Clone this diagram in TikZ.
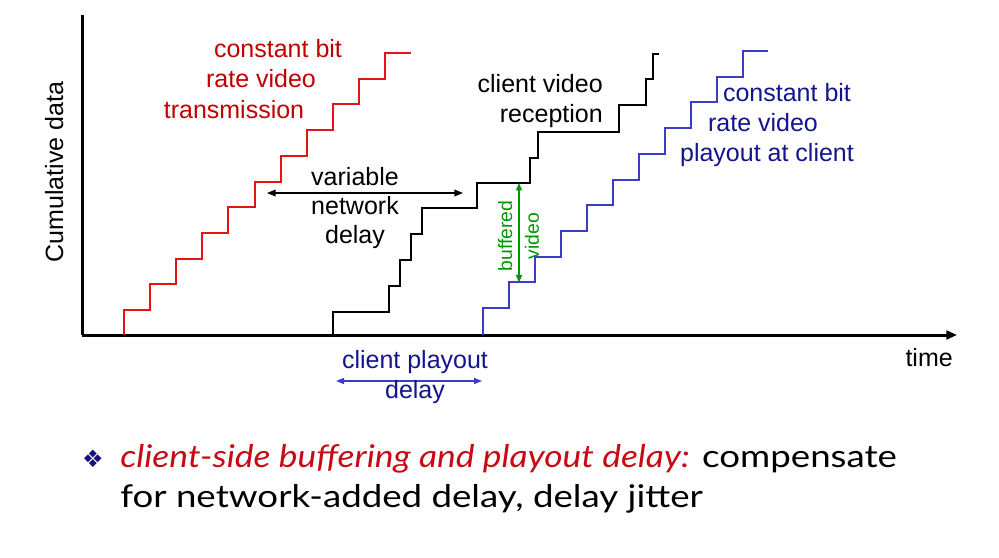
\documentclass[tikz,border=0pt]{standalone}
\usepackage{fontspec}
\setmainfont{Liberation Sans}
\newfontfamily\gillfont[FakeStretch=1.17]{Lato}
\newfontfamily\gillitfont[FakeStretch=1.13]{Lato}
\newfontfamily\symfont{DejaVu Sans}
\usetikzlibrary{arrows.meta}
\definecolor{redline}{RGB}{228,20,20}
\definecolor{redtext}{RGB}{192,0,0}
\definecolor{blueline}{RGB}{60,60,200}
\definecolor{bluetext}{RGB}{20,20,140}
\definecolor{greenc}{RGB}{0,150,0}
\definecolor{navy}{RGB}{20,20,120}
\definecolor{bulred}{RGB}{200,10,20}
\begin{document}
\begin{tikzpicture}[x=0.75pt,y=-0.75pt,
  lbl/.style={inner sep=0pt,font=\fontsize{18.75pt}{22.5pt}\selectfont},
  axisline/.style={line width=2.25pt,black},
  stairline/.style={line width=1.5pt,line join=miter,line cap=butt},
  dimarrow/.style={line width=1.1pt,{Triangle[length=6.5pt,width=5pt]}-{Triangle[length=6.5pt,width=5pt]}},
  bultext/.style={inner sep=0pt,anchor=base west,font=\gillfont\fontsize{23.5pt}{29pt}\selectfont}]
\useasboundingbox (0,0) rectangle (999,557);

% axes
\coordinate (origin) at (82,335);
\coordinate (ytop) at (82,15);
\coordinate (xend) at (957,335);
\draw[axisline] (ytop) -- (origin);
\draw[axisline,-{Triangle[length=8pt,width=6.5pt]}] (origin) -- (xend);
\node[lbl,rotate=90,anchor=base] (ylabel) at (63,172) {Cumulative data};
\node[lbl,anchor=base east] (timelbl) at (953,366) {time};

% red: constant bit rate transmission
\draw[stairline,redline] (124,335) |- (150.1,310) |- (176.2,284.3) |- (202.3,258.6)
  |- (228.4,232.9) |- (254.5,207.2) |- (280.6,181.5) |- (306.7,155.8)
  |- (332.8,130.1) |- (358.9,104.4) |- (385,78.7) |- (411,53);
\node[lbl,text=redtext,anchor=base] (red1) at (278,57) {constant bit};
\node[lbl,text=redtext,anchor=base] (red2) at (261,87) {rate video};
\node[lbl,text=redtext,anchor=base] (red3) at (234,118) {transmission};

% black: client video reception
\draw[stairline,black] (333,335) |- (389,312) |- (400,286) |- (411,260) |- (422,234)
  |- (477,208) |- (530,183) |- (538,158) |- (619,132) |- (646,105) |- (653,79) |- (659,54);
\node[lbl,anchor=base east] (blk1) at (603,92) {client video};
\node[lbl,anchor=base east] (blk2) at (603,122) {reception};

% blue: playout at client
\draw[stairline,blueline] (483,335) |- (509,308) |- (535,282.3) |- (561,256.6)
  |- (587,230.9) |- (613,205.2) |- (639,179.5) |- (665,153.8) |- (691,128.1)
  |- (717,102.4) |- (743,76.7) |- (768,51);
\node[lbl,text=bluetext,anchor=base] (blu1) at (787,101) {constant bit};
\node[lbl,text=bluetext,anchor=base] (blu2) at (763,131) {rate video};
\node[lbl,text=bluetext,anchor=base] (blu3) at (767,161) {playout at client};

% variable network delay
\coordinate (vdl) at (267,193);
\coordinate (vdr) at (463,193);
\draw[dimarrow,black] (vdl) -- (vdr);
\node[lbl,anchor=base] (var1) at (355,185) {variable};
\node[lbl,anchor=base] (var2) at (355,214) {network};
\node[lbl,anchor=base] (var3) at (355,243) {delay};

% buffered video
\coordinate (bvt) at (519,183);
\coordinate (bvb) at (519,282.3);
\draw[line width=1.1pt,greenc,{Triangle[length=5.5pt,width=4.5pt]}-{Triangle[length=5.5pt,width=4.5pt]}] (bvt) -- (bvb);
\node[inner sep=0pt,rotate=90,align=center,text=greenc,font=\fontsize{14.5pt}{20pt}\selectfont] (bvlbl) at (518.5,236) {buffered\\video};

% client playout delay
\coordinate (cpl) at (336,381);
\coordinate (cpr) at (482,381);
\draw[line width=1.1pt,blueline,{Triangle[length=6pt,width=4.5pt]}-{Triangle[length=6pt,width=4.5pt]}] (cpl) -- (cpr);
\node[lbl,text=bluetext,anchor=base] (cp1) at (415,368) {client playout};
\node[lbl,text=bluetext,anchor=base] (cp2) at (415,398) {delay};

% bullet text
\node[inner sep=0pt,text=navy,font=\symfont\fontsize{18pt}{18pt}\selectfont] (bul) at (93,459) {❖};
\node[bultext] (b1) at (120,467) {{\gillitfont\itshape\color{bulred}client-side buffering and playout delay:} compensate};
\node[bultext] (b2) at (120,507) {for network-added delay, delay jitter};
\end{tikzpicture}
\end{document}
